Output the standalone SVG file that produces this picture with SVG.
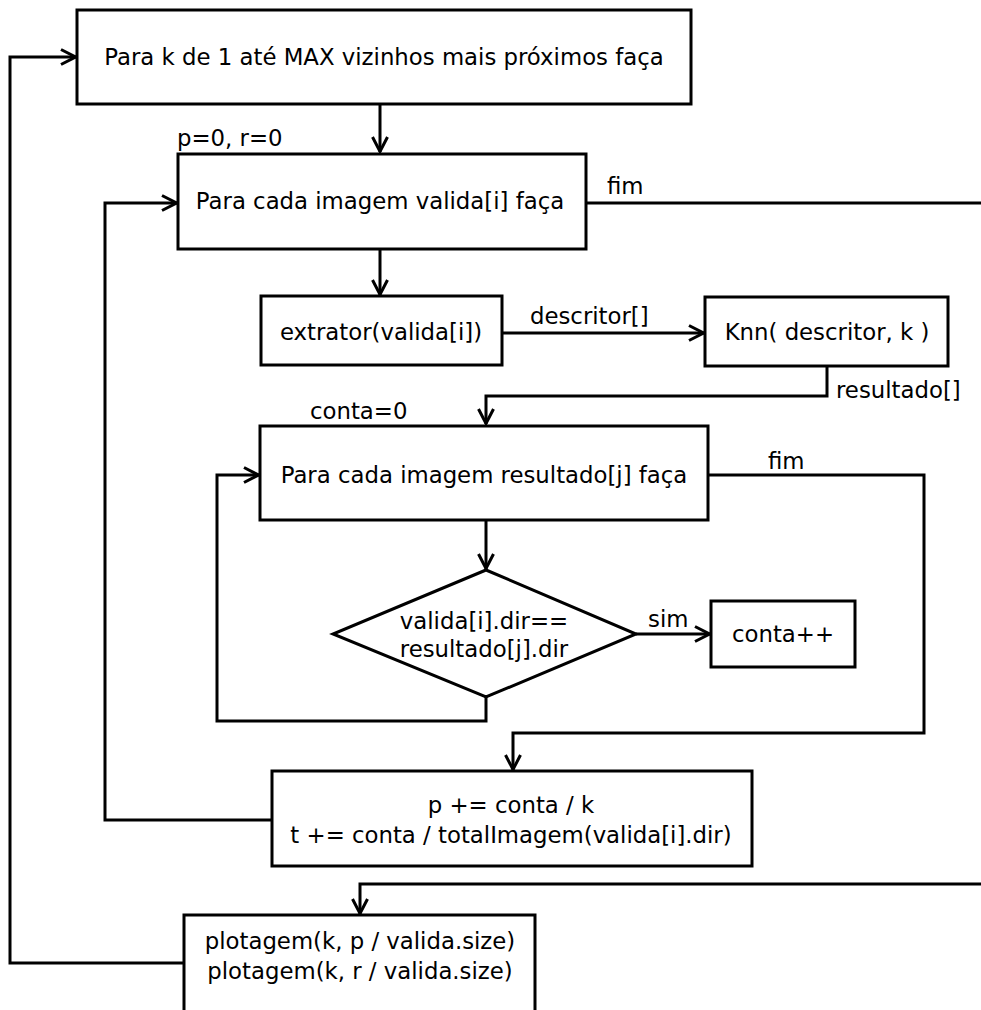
<svg xmlns="http://www.w3.org/2000/svg" width="981" height="1010" viewBox="0 0 981 1010">
  <style>
    .box { fill: #fff; stroke: #000; stroke-width: 3; }
    .line { fill: none; stroke: #000; stroke-width: 3; }
    text { font-family: "DejaVu Sans", "Liberation Sans", sans-serif; font-size: 22.8px; fill: #000; }
    .c { text-anchor: middle; }
  </style>
  <defs>
    <marker id="arrow" viewBox="0 0 18 18" refX="17" refY="9" markerWidth="18" markerHeight="18" markerUnits="userSpaceOnUse" orient="auto">
      <path d="M2 1.5 L16.5 9 L2 16.5" fill="none" stroke="#000" stroke-width="3"/>
    </marker>
  </defs>

  <rect width="981" height="1010" fill="#fff"/>

  <g id="connectors">
    <path class="line" d="M380 104 V152" marker-end="url(#arrow)"/>
    <path class="line" d="M586 203 H981"/>
    <path class="line" d="M272 820 H105 V203 H177" marker-end="url(#arrow)"/>
    <path class="line" d="M184 963 H10 V57 H76" marker-end="url(#arrow)"/>
    <path class="line" d="M380 249 V295" marker-end="url(#arrow)"/>
    <path class="line" d="M502 333 H704" marker-end="url(#arrow)"/>
    <path class="line" d="M827 366 V396 H486 V424" marker-end="url(#arrow)"/>
    <path class="line" d="M486 520 V569" marker-end="url(#arrow)"/>
    <path class="line" d="M636 634 H710" marker-end="url(#arrow)"/>
    <path class="line" d="M486 697 V721 H217 V475 H259" marker-end="url(#arrow)"/>
    <path class="line" d="M708 475 H924 V733 H513 V770" marker-end="url(#arrow)"/>
    <path class="line" d="M981 884 H360 V914" marker-end="url(#arrow)"/>
  </g>

  <g id="labels">
    <text x="177" y="146">p=0, r=0</text>
    <text x="607" y="194">fim</text>
    <text x="530" y="324">descritor[]</text>
    <text x="836" y="398">resultado[]</text>
    <text x="310" y="419">conta=0</text>
    <text x="768" y="469">fim</text>
    <text x="648" y="627">sim</text>
  </g>

  <g id="loop-k">
    <rect class="box" x="77" y="10" width="614" height="94"/>
    <text class="c" x="384" y="65">Para k de 1 até MAX vizinhos mais próximos faça</text>
  </g>

  <g id="loop-valida">
    <rect class="box" x="178" y="154" width="408" height="95"/>
    <text class="c" x="380" y="209">Para cada imagem valida[i] faça</text>
  </g>

  <g id="extrator">
    <rect class="box" x="261" y="296" width="241" height="69"/>
    <text class="c" x="381" y="340">extrator(valida[i])</text>
  </g>

  <g id="knn">
    <rect class="box" x="705" y="297" width="243" height="69"/>
    <text class="c" x="827" y="340">Knn( descritor, k )</text>
  </g>

  <g id="loop-resultado">
    <rect class="box" x="260" y="426" width="448" height="94"/>
    <text class="c" x="484" y="483">Para cada imagem resultado[j] faça</text>
  </g>

  <g id="decisao">
    <polygon class="box" points="486,570 636,634 486,697 333,634"/>
    <text class="c" x="484" y="629">valida[i].dir==</text>
    <text class="c" x="484" y="657">resultado[j].dir</text>
  </g>

  <g id="conta">
    <rect class="box" x="711" y="601" width="144" height="66"/>
    <text class="c" x="783" y="642">conta++</text>
  </g>

  <g id="acumula">
    <rect class="box" x="272" y="771" width="480" height="95"/>
    <text class="c" x="511" y="813">p += conta / k</text>
    <text class="c" x="511" y="843">t += conta / totalImagem(valida[i].dir)</text>
  </g>

  <g id="plotagem">
    <path class="box" d="M184 1012 V915 H535 V1012"/>
    <text class="c" x="360" y="949">plotagem(k, p / valida.size)</text>
    <text class="c" x="360" y="979">plotagem(k, r / valida.size)</text>
  </g>
</svg>
